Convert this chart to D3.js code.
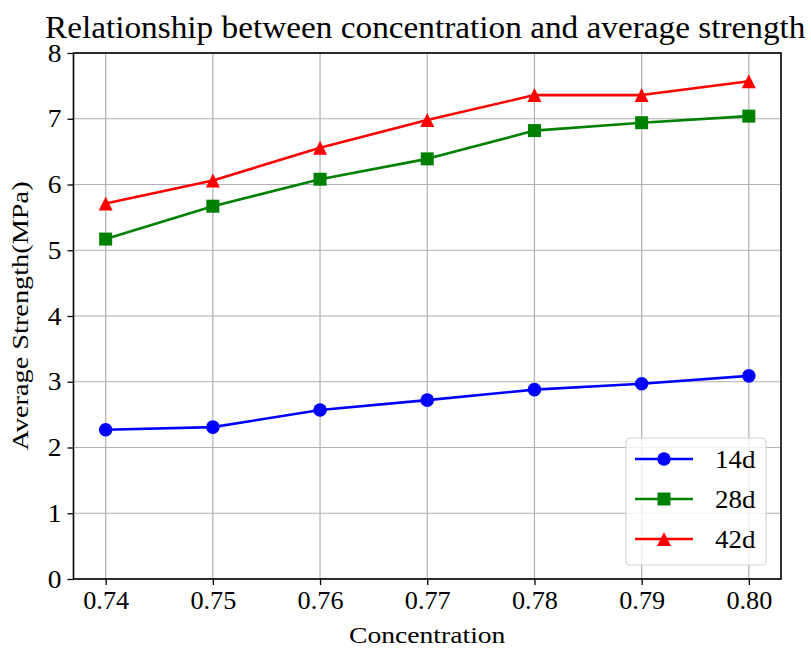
<!DOCTYPE html>
<html>
<head>
<meta charset="utf-8">
<script src="https://cdn.jsdelivr.net/npm/d3@7"></script>
<style>
  html, body { margin: 0; padding: 0; background: #fff; }
  text { font-family: "Liberation Serif", "Times New Roman", serif; fill: #000; }
</style>
</head>
<body>
<svg id="chart" width="811" height="648"></svg>
<script>
// Concentration levels (x axis)
const concentrations = [0.74, 0.75, 0.76, 0.77, 0.78, 0.79, 0.80];
const xTickLabels = ["0.74", "0.75", "0.76", "0.77", "0.78", "0.79", "0.80"];
const yTicks = [0, 1, 2, 3, 4, 5, 6, 7, 8];

// Average strength (MPa) by curing age
const strength14d = [2.27, 2.31, 2.57, 2.72, 2.88, 2.97, 3.09];
const strength28d = [5.17, 5.67, 6.08, 6.39, 6.82, 6.94, 7.04];
const strength42d = [5.71, 6.06, 6.56, 6.98, 7.36, 7.36, 7.57];

const seriesNames = ["14d", "28d", "42d"];
const seriesColors = ["#0000ff", "#008000", "#ff0000"];
const seriesMarkers = ["circle", "square", "triangle"];
const seriesValues = [strength14d, strength28d, strength42d];

const svg = d3.select("#chart");
const plot = { left: 73.5, right: 781, top: 53, bottom: 579 };

const x = d3.scaleLinear().domain([0.737, 0.803]).range([plot.left, plot.right]);
const y = d3.scaleLinear().domain([0, 8]).range([plot.bottom, plot.top]);

// Widen a text's glyphs horizontally by a factor (the serif face here is set a bit wide)
function widen(sel, factor) {
  sel.each(function () {
    const len = this.getComputedTextLength();
    d3.select(this).attr("textLength", len * factor).attr("lengthAdjust", "spacingAndGlyphs");
  });
}

// Grid
const grid = svg.append("g");
grid.selectAll("line.vg").data(concentrations).join("line")
  .attr("x1", d => x(d)).attr("x2", d => x(d))
  .attr("y1", plot.top).attr("y2", plot.bottom)
  .attr("stroke", "#b0b0b0").attr("stroke-width", 1.2);
grid.selectAll("line.hg").data(yTicks).join("line")
  .attr("x1", plot.left).attr("x2", plot.right)
  .attr("y1", d => y(d)).attr("y2", d => y(d))
  .attr("stroke", "#b0b0b0").attr("stroke-width", 1.2);

function drawMarker(g, type, color) {
  if (type === "triangle") {
    const s = 7;
    g.append("path")
      .attr("d", `M0,${-s}L${s},${s}L${-s},${s}Z`)
      .attr("fill", color);
  } else if (type === "square") {
    g.append("rect").attr("x", -6.5).attr("y", -6.5).attr("width", 13).attr("height", 13)
      .attr("fill", color);
  } else {
    g.append("circle").attr("r", 6.8).attr("fill", color);
  }
}

// Series lines and markers
const line = d3.line().x(d => x(d.c)).y(d => y(d.v));
seriesValues.forEach((vals, i) => {
  const pts = concentrations.map((c, j) => ({ c, v: vals[j] }));
  svg.append("path").datum(pts)
    .attr("d", line)
    .attr("fill", "none")
    .attr("stroke", seriesColors[i])
    .attr("stroke-width", 2.6)
    .attr("stroke-linejoin", "round");
  pts.forEach(p => {
    const g = svg.append("g").attr("transform", `translate(${x(p.c)},${y(p.v)})`);
    drawMarker(g, seriesMarkers[i], seriesColors[i]);
  });
});

// Frame
svg.append("rect")
  .attr("x", plot.left).attr("y", plot.top)
  .attr("width", plot.right - plot.left).attr("height", plot.bottom - plot.top)
  .attr("fill", "none").attr("stroke", "#000").attr("stroke-width", 1.6);

// Axes
const xAxis = d3.axisBottom(x).tickValues(concentrations)
  .tickFormat((d, i) => xTickLabels[i]).tickSize(6).tickPadding(5);
const gx = svg.append("g").attr("transform", `translate(0,${plot.bottom})`).call(xAxis);
const yAxis = d3.axisLeft(y).tickValues(yTicks).tickFormat(d3.format("d")).tickSize(6).tickPadding(6);
const gy = svg.append("g").attr("transform", `translate(${plot.left},0)`).call(yAxis);
[gx, gy].forEach(g => {
  g.attr("font-family", null);
  g.select(".domain").remove();
  g.selectAll(".tick line").attr("stroke", "#000").attr("stroke-width", 1.3);
  g.selectAll(".tick text")
    .attr("font-family", "Liberation Serif, serif")
    .attr("font-size", 25).attr("fill", "#000");
});
gx.selectAll(".tick text").attr("dy", "0.74em");
widen(gx.selectAll(".tick text"), 1.05);
widen(gy.selectAll(".tick text"), 1.1);

// Title and axis labels
svg.append("text")
  .attr("x", (plot.left + plot.right) / 2 - 2).attr("y", 38)
  .attr("text-anchor", "middle").attr("font-size", 32)
  .text("Relationship between concentration and average strength")
  .call(widen, 1.04);
svg.append("text")
  .attr("x", (plot.left + plot.right) / 2).attr("y", 643)
  .attr("text-anchor", "middle").attr("font-size", 24)
  .text("Concentration")
  .call(widen, 1.15);
svg.append("text")
  .attr("transform", `translate(28,${(plot.top + plot.bottom) / 2}) rotate(-90)`)
  .attr("text-anchor", "middle").attr("font-size", 24)
  .text("Average Strength(MPa)")
  .call(widen, 1.18);

// Legend
const lg = svg.append("g").attr("transform", "translate(626,438)");
lg.append("rect").attr("width", 140).attr("height", 127).attr("rx", 4)
  .attr("fill", "#fff").attr("fill-opacity", 0.8)
  .attr("stroke", "#d4d4d4").attr("stroke-width", 1.2);
seriesNames.forEach((name, i) => {
  const row = lg.append("g").attr("transform", `translate(0,${21 + i * 40})`);
  row.append("line").attr("x1", 9).attr("x2", 67)
    .attr("stroke", seriesColors[i]).attr("stroke-width", 2.6);
  const m = row.append("g").attr("transform", "translate(38,0)");
  drawMarker(m, seriesMarkers[i], seriesColors[i]);
  row.append("text").attr("x", 89).attr("y", 9).attr("font-size", 25).text(name)
    .call(widen, 1.08);
});
</script>
</body>
</html>
